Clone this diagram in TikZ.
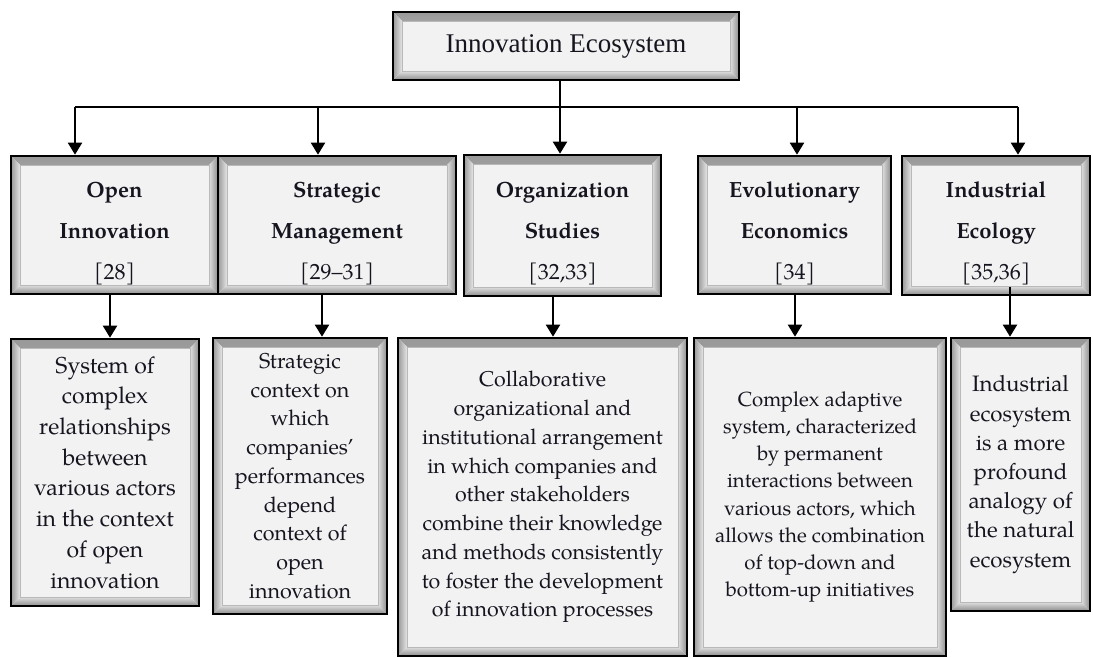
\documentclass[tikz,border=0pt]{standalone}
\usepackage{fontspec}
\setmainfont{texgyrepagella}[Extension=.otf, UprightFont=*-regular, BoldFont=*-bold, ItalicFont=*-italic, BoldItalicFont=*-bolditalic]
\newfontfamily\timesf{Liberation Serif}
\usetikzlibrary{arrows.meta}
\definecolor{boxfill}{HTML}{F2F2F2}
\definecolor{txt}{HTML}{15151F}
\newcommand{\hstrut}{\rule{0pt}{32pt}}
\begin{document}
\begin{tikzpicture}[x=1pt,y=-1pt,
  bev/.style={draw=black, line width=2.6pt, fill=boxfill, inner sep=0pt, align=center, text=txt,
    path picture={
      \shade[top color=gray!80, bottom color=gray!20]
        (path picture bounding box.north west) -- (path picture bounding box.north east)
        -- ([shift={(-9pt,-9pt)}]path picture bounding box.north east)
        -- ([shift={(9pt,-9pt)}]path picture bounding box.north west) -- cycle;
      \shade[left color=gray!80, right color=gray!20]
        (path picture bounding box.north west) -- ([shift={(9pt,-9pt)}]path picture bounding box.north west)
        -- ([shift={(9pt,9pt)}]path picture bounding box.south west)
        -- (path picture bounding box.south west) -- cycle;
      \shade[top color=gray!25, bottom color=gray!90]
        (path picture bounding box.south west) -- (path picture bounding box.south east)
        -- ([shift={(-9pt,9pt)}]path picture bounding box.south east)
        -- ([shift={(9pt,9pt)}]path picture bounding box.south west) -- cycle;
      \shade[left color=gray!25, right color=gray!90]
        (path picture bounding box.north east) -- ([shift={(-9pt,-9pt)}]path picture bounding box.north east)
        -- ([shift={(-9pt,9pt)}]path picture bounding box.south east)
        -- (path picture bounding box.south east) -- cycle;
      \draw[gray!55, line width=0.6pt]
        ([shift={(9pt,-9pt)}]path picture bounding box.north west) rectangle
        ([shift={(-9pt,9pt)}]path picture bounding box.south east);
    }},
  hd/.style={font=\fontsize{22}{41}\selectfont},
  arr/.style={line width=2pt, -{Triangle[width=14pt,length=12pt]}},
  barline/.style={line width=2pt}
]
\useasboundingbox[fill=white] (0,0) rectangle (1093,658);

% top
\node[bev, minimum width=346pt, minimum height=68pt, font=\timesf\fontsize{27}{32}\selectfont] (top) at (566,46) {Innovation Ecosystem};

% middle row
\node[bev, hd, minimum width=207pt, minimum height=138pt] (oi) at (114.5,225) {\hstrut\textbf{Open}\\\textbf{Innovation}\\{[28]}};
\node[bev, hd, minimum width=238pt, minimum height=138pt] (sm) at (337,225) {\hstrut\textbf{Strategic}\\\textbf{Management}\\{[29–31]}};
\node[bev, hd, minimum width=197pt, minimum height=141pt] (os) at (562.5,225.5) {\hstrut\textbf{Organization}\\\textbf{Studies}\\{[32,33]}};
\node[bev, hd, minimum width=193pt, minimum height=138pt] (ee) at (794.5,225) {\hstrut\textbf{Evolutionary}\\\textbf{Economics}\\{[34]}};
\node[bev, hd, minimum width=188pt, minimum height=139pt] (ie) at (996,225.5) {\hstrut\textbf{Industrial}\\\textbf{Ecology}\\{[35,36]}};

% bottom row
\node[bev, minimum width=188pt, minimum height=267pt, font=\fontsize{23}{30.7}\selectfont] (d1) at (105,472.5)
  {System of\\complex\\relationships\\between\\various actors\\in the context\\of open\\innovation};
\node[bev, minimum width=174pt, minimum height=276pt, font=\fontsize{21.5}{28.75}\selectfont] (d2) at (300,476)
  {Strategic\\context on\\which\\companies’\\performances\\depend\\context of\\open\\innovation};
\node[bev, minimum width=289pt, minimum height=318pt, font=\fontsize{21.4}{28.75}\selectfont] (d3) at (542.5,497)
  {Collaborative\\organizational and\\institutional arrangement\\in which companies and\\other stakeholders\\combine their knowledge\\and methods consistently\\to foster the development\\of innovation processes};
\node[bev, minimum width=252pt, minimum height=318pt, font=\fontsize{20.4}{27.1}\selectfont] (d4) at (820,497)
  {Complex adaptive\\system, characterized\\by permanent\\interactions between\\various actors, which\\allows the combination\\of top-down and\\bottom-up initiatives};
\node[bev, minimum width=139pt, minimum height=273pt, font=\fontsize{22.3}{29.2}\selectfont] (d5) at (1020.5,474.5)
  {Industrial\\ecosystem\\is a more\\profound\\analogy of\\the natural\\ecosystem};

% connectors
\coordinate (a0) at (560,0);
\coordinate (bL) at (75,107);
\coordinate (b2) at (318,107);
\coordinate (b4) at (797,107);
\coordinate (bR) at (1018,107);
\draw[barline] (bL) -- (bR);
\draw[arr] (a0 |- top.south) -- (a0 |- os.north);
\draw[arr] (bL) -- (bL |- oi.north);
\draw[arr] (b2) -- (b2 |- sm.north);
\draw[arr] (b4) -- (b4 |- ee.north);
\draw[arr] (bR) -- (bR |- ie.north);

\coordinate (x1) at (110,0);
\coordinate (x2) at (322,0);
\coordinate (x3) at (553,0);
\coordinate (x4) at (795,0);
\coordinate (x5) at (1010,0);
\draw[arr] (x1 |- oi.south) -- (x1 |- d1.north);
\draw[arr] (x2 |- sm.south) -- (x2 |- d2.north);
\draw[arr] (x3 |- os.south) -- (x3 |- d3.north);
\draw[arr] (x4 |- ee.south) -- (x4 |- d4.north);
\draw[arr] ([yshift=9pt]x5 |- ie.south) -- (x5 |- d5.north);
\end{tikzpicture}
\end{document}
